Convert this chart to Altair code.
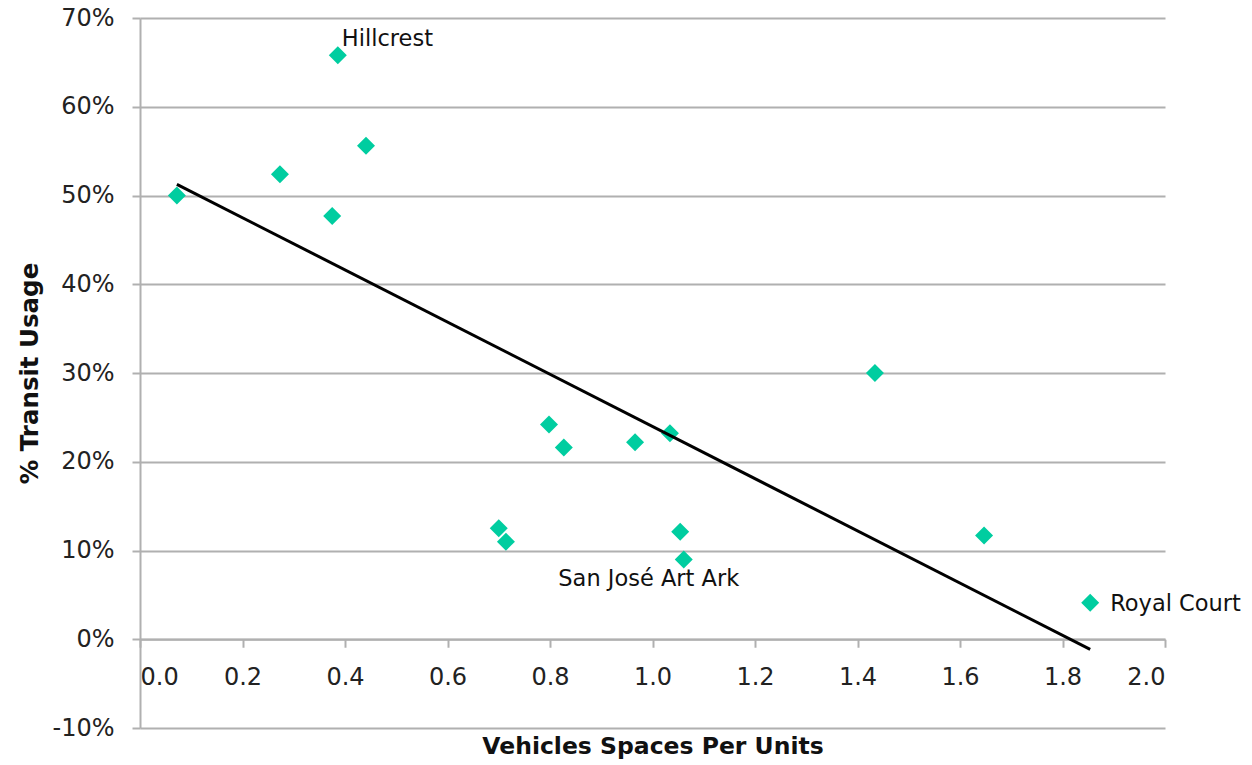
import altair as alt
import pandas as pd

# Data
spaces = [0.072, 0.273, 0.386, 0.375, 0.441, 0.700, 0.714, 0.798, 0.827,
          0.966, 1.034, 1.054, 1.061, 1.434, 1.647, 1.854]
transit = [0.500, 0.524, 0.658, 0.477, 0.556, 0.125, 0.110, 0.242, 0.216,
           0.222, 0.232, 0.121, 0.090, 0.300, 0.117, 0.041]
names = ["", "", "Hillcrest", "", "", "", "", "", "",
         "", "", "", "San José Art Ark", "", "", "Royal Court"]

x_ticks = [0.0, 0.2, 0.4, 0.6, 0.8, 1.0, 1.2, 1.4, 1.6, 1.8, 2.0]
y_ticks = [-0.1, 0.0, 0.1, 0.2, 0.3, 0.4, 0.5, 0.6, 0.7]

df = pd.DataFrame({"spaces": spaces, "transit": transit, "name": names})

FONT = "DejaVu Sans"
GREEN = "#00CDA0"
GRID = "#b0b0b0"
W, H = 1025, 710

x_enc = alt.X(
    "spaces:Q",
    scale=alt.Scale(domain=[0, 2], nice=False, zero=False),
    axis=alt.Axis(
        values=x_ticks, format=".1f", grid=False,
        title="Vehicles Spaces Per Units",
        offset=-H / 8.0,
        domainColor=GRID, domainWidth=2, tickColor=GRID, tickWidth=2, tickSize=8,
        labelFont=FONT, labelFontSize=24, labelColor="#222222", labelPadding=18,
        titleFont=FONT, titleFontSize=23.5, titleFontWeight="bold", titleColor="#111111",
        titlePadding=45,
    ),
)
y_enc = alt.Y(
    "transit:Q",
    scale=alt.Scale(domain=[-0.1, 0.7], nice=False, zero=False),
    axis=alt.Axis(
        values=y_ticks, format=".0%", grid=True, gridColor=GRID, gridWidth=2,
        labelExpr="replace(datum.label, '\u2212', '-')",
        title="% Transit Usage",
        domainColor=GRID, domainWidth=2, tickColor=GRID, tickWidth=2, tickSize=8,
        labelFont=FONT, labelFontSize=24, labelColor="#222222", labelPadding=18,
        titleFont=FONT, titleFontSize=24.5, titleFontWeight="bold", titleColor="#111111",
        titlePadding=9,
    ),
)

base = alt.Chart(df)

points = base.mark_point(shape="diamond", filled=True, size=324, opacity=1,
                         color=GREEN).encode(x=x_enc, y=y_enc)

trend = base.transform_regression("spaces", "transit").mark_line(
    color="black", strokeWidth=3).encode(x="spaces:Q", y="transit:Q")

def label(name, dx, dy, align):
    return base.transform_filter(alt.datum.name == name).mark_text(
        font=FONT, fontSize=22.5, color="#111111", align=align, baseline="middle",
        dx=dx, dy=dy).encode(x="spaces:Q", y="transit:Q", text="name:N")

labels = (label("Hillcrest", 4, -16, "left")
          + label("San José Art Ark", -35, 20, "center")
          + label("Royal Court", 20, 1, "left"))

chart = alt.layer(points, trend, labels).properties(
    width=W, height=H,
    autosize=alt.AutoSizeParams(type="none"),
    padding={"left": 132, "top": 10, "right": 78, "bottom": 35},
).configure_view(stroke=None)

chart.save("out.html", embed_options={"renderer": "svg", "actions": False})
